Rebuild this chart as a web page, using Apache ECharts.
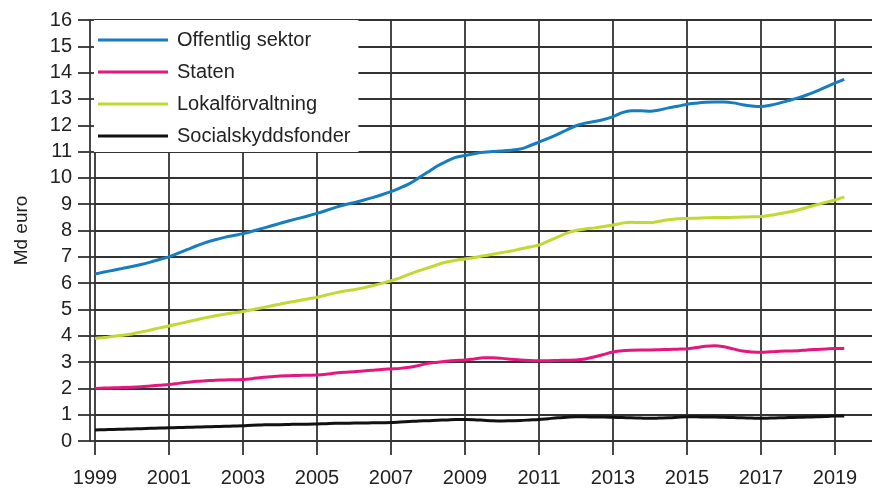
<!DOCTYPE html>
<html>
<head>
<meta charset="utf-8">
<title>Offentlig sektor</title>
<script src="https://cdn.jsdelivr.net/npm/echarts@6/dist/echarts.min.js"></script>
<style>
html, body { margin: 0; padding: 0; background: #fff; }
#main { width: 872px; height: 488px; }
</style>
</head>
<body>
<div id="main"></div>
<script type="text/javascript">
// kvartal 1999K1 .. 2020K1 (sista kategorin utan data)
var years = [1999, 2000, 2001, 2002, 2003, 2004, 2005, 2006, 2007, 2008, 2009,
	2010, 2011, 2012, 2013, 2014, 2015, 2016, 2017, 2018, 2019, 2020];
var quarters = [];
years.forEach(function (y) {
	for (var q = 1; q <= 4; q++) {
		if (y === 2020 && q > 1) break;
		quarters.push(y + 'K' + q);
	}
});

var seriesNames = ['Offentlig sektor', 'Staten', 'Lokalförvaltning', 'Socialskyddsfonder'];
var seriesColors = ['#167dbe', '#e5177e', '#c2d833', '#111111'];

// Md euro, kvartalsvis
var offentlig = [
	6.35, 6.42, 6.49, 6.56, 6.63, 6.71, 6.80, 6.90, 7.00, 7.14, 7.28, 7.42,
	7.55, 7.65, 7.74, 7.81, 7.88, 7.97, 8.07, 8.17, 8.27, 8.37, 8.46, 8.55,
	8.65, 8.76, 8.88, 8.98, 9.06, 9.15, 9.25, 9.36, 9.48, 9.62, 9.78, 10.0,
	10.22, 10.45, 10.63, 10.78, 10.85, 10.92, 10.97, 11.0, 11.02, 11.05, 11.10, 11.22,
	11.36, 11.50, 11.65, 11.82, 11.98, 12.08, 12.14, 12.22, 12.33, 12.48, 12.55, 12.55,
	12.53, 12.58, 12.66, 12.72, 12.80, 12.84, 12.87, 12.88, 12.88, 12.85, 12.78, 12.73,
	12.71, 12.76, 12.84, 12.94, 13.04, 13.16, 13.30, 13.45, 13.60, 13.74
];
var staten = [
	2.00, 2.01, 2.02, 2.03, 2.04, 2.06, 2.09, 2.12, 2.15, 2.19, 2.23, 2.27,
	2.29, 2.31, 2.32, 2.33, 2.34, 2.37, 2.41, 2.44, 2.47, 2.48, 2.49, 2.50,
	2.51, 2.54, 2.58, 2.61, 2.63, 2.66, 2.69, 2.72, 2.74, 2.76, 2.80, 2.87,
	2.95, 2.99, 3.03, 3.06, 3.08, 3.12, 3.16, 3.16, 3.14, 3.11, 3.08, 3.06,
	3.05, 3.05, 3.06, 3.07, 3.08, 3.12, 3.20, 3.29, 3.38, 3.43, 3.45, 3.46,
	3.46, 3.47, 3.48, 3.49, 3.50, 3.55, 3.60, 3.62, 3.58, 3.50, 3.42, 3.38,
	3.37, 3.39, 3.41, 3.42, 3.43, 3.46, 3.48, 3.50, 3.52, 3.52
];
var lokal = [
	3.90, 3.93, 3.98, 4.02, 4.07, 4.14, 4.22, 4.30, 4.37, 4.45, 4.53, 4.61,
	4.69, 4.76, 4.82, 4.87, 4.92, 4.99, 5.06, 5.13, 5.20, 5.27, 5.33, 5.40,
	5.46, 5.55, 5.63, 5.70, 5.75, 5.82, 5.90, 5.99, 6.09, 6.20, 6.34, 6.47,
	6.58, 6.70, 6.80, 6.87, 6.92, 6.97, 7.04, 7.10, 7.16, 7.22, 7.30, 7.37,
	7.45, 7.60, 7.75, 7.90, 8.00, 8.06, 8.10, 8.15, 8.21, 8.28, 8.31, 8.30,
	8.30, 8.35, 8.41, 8.45, 8.46, 8.47, 8.48, 8.49, 8.49, 8.50, 8.51, 8.52,
	8.53, 8.58, 8.64, 8.70, 8.78, 8.88, 8.98, 9.07, 9.16, 9.28
];
var socialskydd = [
	0.42, 0.43, 0.44, 0.45, 0.46, 0.47, 0.48, 0.49, 0.50, 0.51, 0.52, 0.53,
	0.54, 0.55, 0.56, 0.57, 0.58, 0.60, 0.61, 0.62, 0.62, 0.63, 0.64, 0.64,
	0.65, 0.66, 0.67, 0.67, 0.68, 0.68, 0.69, 0.69, 0.70, 0.72, 0.74, 0.76,
	0.77, 0.79, 0.80, 0.82, 0.82, 0.81, 0.79, 0.77, 0.76, 0.77, 0.78, 0.80,
	0.82, 0.85, 0.88, 0.90, 0.92, 0.92, 0.91, 0.91, 0.90, 0.89, 0.88, 0.87,
	0.86, 0.87, 0.88, 0.90, 0.92, 0.92, 0.91, 0.91, 0.90, 0.89, 0.88, 0.87,
	0.86, 0.87, 0.88, 0.89, 0.90, 0.91, 0.92, 0.93, 0.95, 0.95
];
var seriesData = [offentlig, staten, lokal, socialskydd];

var font = 'Liberation Sans, Arial, sans-serif';
var gridColor = '#333333';
var everyOther = function (index) { return index % 8 === 0; };

var myChart = echarts.init(document.getElementById('main'));

var option = {
	animation: false,
	textStyle: { fontFamily: font },
	grid: { left: 95, right: 0, top: 20, bottom: 47, outerBoundsMode: 'none', containLabel: false },
	legend: {
		orient: 'vertical',
		left: 94,
		top: 20,
		padding: [10, 8, 6, 4],
		backgroundColor: '#fff',
		icon: 'rect',
		itemWidth: 70,
		itemHeight: 3,
		itemGap: 12,
		textStyle: { fontFamily: font, fontSize: 20, lineHeight: 20, color: '#222', padding: [0, 0, 0, 4] },
		data: seriesNames
	},
	xAxis: [{
		type: 'category',
		data: quarters,
		boundaryGap: false,
		axisLine: { show: false },
		axisTick: { show: true, interval: everyOther, length: 14, lineStyle: { color: gridColor, width: 1.8 } },
		axisLabel: {
			interval: everyOther,
			margin: 27,
			fontSize: 20,
			color: '#222',
			formatter: function (v) { return v.slice(0, 4); }
		},
		splitLine: { show: true, interval: everyOther, lineStyle: { color: gridColor, width: 1.8 } }
	}, {
		// nedre ram, lite under nollinjen
		type: 'category',
		data: quarters,
		boundaryGap: false,
		position: 'bottom',
		offset: 6,
		axisLine: { show: true, lineStyle: { color: gridColor, width: 1.8 } },
		axisTick: { show: false },
		axisLabel: { show: false },
		splitLine: { show: false }
	}],
	yAxis: [{
		type: 'value',
		min: 0,
		max: 16,
		interval: 1,
		position: 'left',
		offset: 5,
		name: 'Md euro',
		nameLocation: 'middle',
		nameGap: 59,
		nameMoveOverlap: false,
		nameTextStyle: { fontSize: 19, color: '#222' },
		axisLine: { show: true, onZero: false, lineStyle: { color: gridColor, width: 1.8 } },
		axisTick: { show: true, length: 12, lineStyle: { color: gridColor, width: 1.8 } },
		axisLabel: { margin: 18, fontSize: 20, color: '#222' },
		splitLine: { show: true, lineStyle: { color: gridColor, width: 1.8 } }
	}, {
		// fyller glappet mellan ramen och rutnätet
		type: 'value',
		min: 0,
		max: 16,
		interval: 1,
		position: 'left',
		offset: 0,
		axisLine: { show: false },
		axisTick: { show: true, length: 5, lineStyle: { color: gridColor, width: 1.8 } },
		axisLabel: { show: false },
		splitLine: { show: false }
	}],
	series: seriesNames.map(function (name, i) {
		return {
			name: name,
			type: 'line',
			data: seriesData[i],
			symbol: 'none',
			smooth: 0.3,
			color: seriesColors[i],
			lineStyle: { width: 3, color: seriesColors[i] },
			z: 10 - i
		};
	})
};

myChart.setOption(option);
</script>
</body>
</html>
